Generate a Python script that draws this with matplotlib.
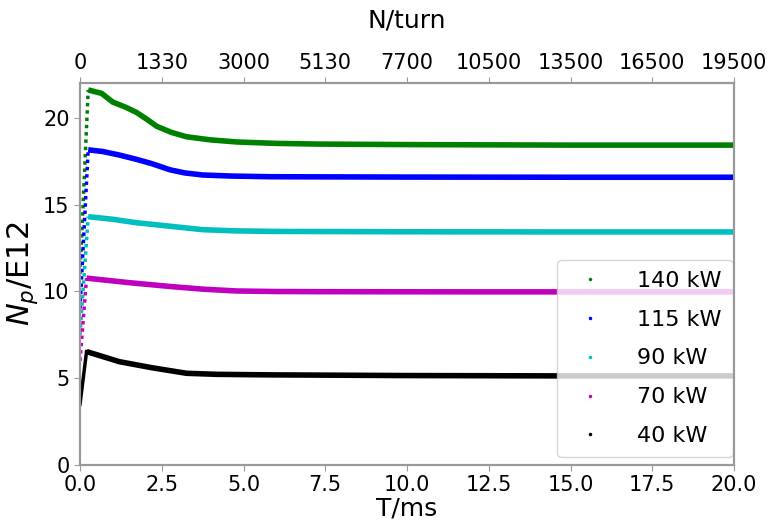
import matplotlib
matplotlib.use("Agg")
import matplotlib.pyplot as plt
from matplotlib.lines import Line2D

# key points (T in ms, Np in E12)
labels = ["140 kW", "115 kW", "90 kW", "70 kW", "40 kW"]
colors = ["g", "b", "c", "m", "k"]

t_140 = [0.0, 0.25, 0.45, 0.66, 1.0, 1.4, 1.73, 2.05, 2.35, 2.8, 3.26, 4.0, 4.8, 6.0, 7.3, 10.0, 15.0, 20.0]
np_140 = [11.0, 21.6, 21.5, 21.4, 20.9, 20.6, 20.3, 19.9, 19.5, 19.15, 18.9, 18.72, 18.6, 18.52, 18.48, 18.45, 18.42, 18.42]

t_115 = [0.0, 0.25, 0.7, 1.2, 1.73, 2.2, 2.75, 3.2, 3.75, 4.6, 5.8, 10.0, 15.0, 20.0]
np_115 = [9.0, 18.15, 18.05, 17.85, 17.6, 17.35, 17.0, 16.82, 16.7, 16.64, 16.6, 16.58, 16.57, 16.57]

t_90 = [0.0, 0.25, 1.0, 1.73, 2.75, 3.75, 4.8, 6.0, 10.0, 15.0, 20.0]
np_90 = [7.5, 14.3, 14.15, 13.95, 13.75, 13.55, 13.48, 13.45, 13.43, 13.42, 13.42]

t_70 = [0.0, 0.2, 1.5, 2.75, 3.8, 4.8, 6.0, 7.5, 12.0, 20.0]
np_70 = [6.0, 10.76, 10.5, 10.28, 10.12, 10.02, 9.99, 9.98, 9.97, 9.97]

t_40 = [0.0, 0.2, 0.6, 1.2, 2.2, 3.26, 4.2, 5.8, 10.0, 15.0, 20.0]
np_40 = [3.5, 6.53, 6.3, 5.95, 5.6, 5.28, 5.22, 5.19, 5.15, 5.13, 5.13]

series_t = [t_140, t_115, t_90, t_70, t_40]
series_np = [np_140, np_115, np_90, np_70, np_40]

xticks = [0.0, 2.5, 5.0, 7.5, 10.0, 12.5, 15.0, 17.5, 20.0]
turn_labels = ["0", "1330", "3000", "5130", "7700", "10500", "13500", "16500", "19500"]

fig = plt.figure(figsize=(7.73, 5.25), dpi=100)
ax = fig.add_axes([0.1035, 0.1143, 0.8461, 0.7277])

for t, n, c in zip(series_t, series_np, colors):
    # fast injection rise looks dotted in the reference
    ax.plot(t[:2], n[:2], color=c, lw=2.5, ls=(0, (1, 1.1)) if c != "k" else "-", zorder=2)
    ax.plot(t[1:], n[1:], color=c, lw=4, solid_capstyle="butt", zorder=3)

ax.set_xlim(0, 20)
ax.set_ylim(0, 22)
ax.set_xticks(xticks)
ax.set_yticks([0, 5, 10, 15, 20])
ax.tick_params(labelsize=15, color="#999999", length=4)
ax.set_xlabel("T/ms", fontsize=18, labelpad=1)
ax.set_ylabel("$N_p$/E12", fontsize=22, labelpad=2)
for s in ax.spines.values():
    s.set_color("#999999")
    s.set_linewidth(1.5)

top = ax.twiny()
top.set_xlim(ax.get_xlim())
top.set_xticks(xticks)
top.set_xticklabels(turn_labels)
top.tick_params(labelsize=15, color="#999999", length=4)
top.set_xlabel("N/turn", fontsize=18, labelpad=18)
for s in top.spines.values():
    s.set_color("#999999")
    s.set_linewidth(1.5)

handles = [Line2D([], [], color=c, marker=".", ls="", markersize=3) for c in colors]
ax.legend(handles, labels, loc="lower right", bbox_to_anchor=(0.998, 0.02),
          borderaxespad=0, fontsize=16, handletextpad=1.1, labelspacing=0.85,
          borderpad=0.5, framealpha=0.8)

fig.savefig("out.png", dpi=100)
